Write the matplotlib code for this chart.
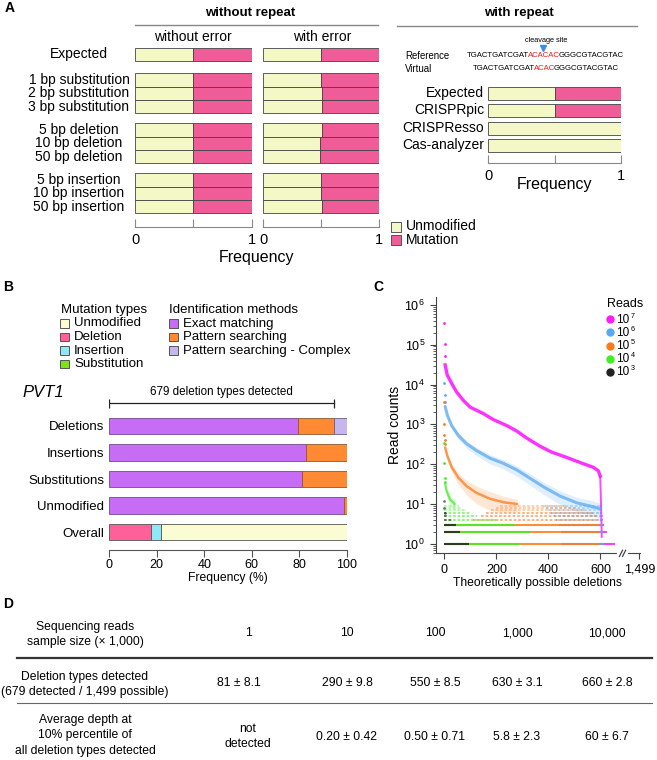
import numpy as np
import matplotlib
matplotlib.use('Agg')
import matplotlib.pyplot as plt
from matplotlib import font_manager
from matplotlib.patches import Rectangle
from matplotlib.lines import Line2D

plt.rcParams['font.family'] = ['Liberation Sans', 'DejaVu Sans']
plt.rcParams['mathtext.fontset'] = 'custom'
plt.rcParams['mathtext.rm'] = 'Liberation Sans'
plt.rcParams['mathtext.it'] = 'Liberation Sans:italic'
plt.rcParams['mathtext.bf'] = 'Liberation Sans:bold'

W, H = 657, 760

# ---------------- data ----------------
# panel A
a_rows = ['Expected', '1 bp substitution', '2 bp substitution', '3 bp substitution',
          '5 bp deletion', '10 bp deletion', '50 bp deletion',
          '5 bp insertion', '10 bp insertion', '50 bp insertion']
a_group = [0, 1, 1, 1, 2, 2, 2, 3, 3, 3]
a_unmod_no_err = [0.50, 0.50, 0.50, 0.50, 0.50, 0.50, 0.50, 0.50, 0.50, 0.50]
a_unmod_err = [0.50, 0.497, 0.503, 0.503, 0.505, 0.490, 0.490, 0.494, 0.494, 0.503]
rep_rows = ['Expected', 'CRISPRpic', 'CRISPResso', 'Cas-analyzer']
rep_unmod = [0.50, 0.50, 1.00, 1.00]
ref_parts = ['TGACTGATCGAT', 'ACACAC', 'GGGCGTACGTAC']
virt_parts = ['TGACTGATCGAT', 'ACAC', 'GGGCGTACGTAC']

# panel B
b_rows = ['Deletions', 'Insertions', 'Substitutions', 'Unmodified']
b_exact = [79.6, 82.7, 81.0, 98.8]
b_pattern = [15.2, 17.3, 19.0, 1.2]
b_complex = [5.2, 0.0, 0.0, 0.0]
overall_vals = [17.7, 3.9, 0.2, 78.2]   # deletion, insertion, substitution, unmodified
deletion_bracket = 94.8
mut_types = ['Unmodified', 'Deletion', 'Insertion', 'Substitution']
methods = ['Exact matching', 'Pattern searching', 'Pattern searching - Complex']

# panel C
c_exps = [7, 6, 5, 4, 3]
pink_top_x = [0, 1, 2]
pink_top_y = [3.6e5, 1.05e5, 5.3e4]
pink_x = [3, 11, 28, 47, 73, 99, 150, 188, 240, 278, 317, 368, 413, 470, 522, 573, 592, 599]
pink_y = [3.1e4, 1.74e4, 1.07e4, 6.5e3, 4.0e3, 2.7e3, 1.86e3, 1.32e3, 930, 680, 450, 282, 200, 148, 110, 83, 68, 50]
pink_drop_x = [599, 601, 603, 605]
pink_drop_y = [50, 20, 6, 1.5]
pink_lv = [1, 2, 3, 4, 5, 6, 7, 8, 9]
pink_lv_start = [600, 600, 600, 600, 600, 600, 600, 600, 600]
pink_lv_end = [657, 625, 614, 610, 608, 607, 606, 606, 605]

blue_top_x = [0, 1, 2]
blue_top_y = [1.1e4, 5.4e3, 3.6e3]
blue_x = [3, 12, 28, 54, 86, 124, 176, 227, 278, 330, 381, 445, 509, 573, 599]
blue_y = [2820, 1660, 933, 525, 324, 219, 141, 105, 72, 44, 27, 15.8, 10.7, 8.5, 7.6]
blue_spread = [0.03, 0.04, 0.05, 0.06, 0.07, 0.08, 0.09, 0.09, 0.10, 0.11, 0.12, 0.13, 0.14, 0.15, 0.15]
blue_lv = [1, 2, 3, 4, 5, 6, 7, 8, 9]
blue_lv_start = [450, 450, 440, 430, 420, 410, 400, 390, 380]
blue_lv_end = [612, 610, 609, 608, 607, 606, 606, 605, 605]

orange_top_x = [0, 0, 0, 1, 2]
orange_top_y = [3.6e3, 1.0e3, 5.5e2, 4.0e2, 3.2e2]
orange_x = [3, 12, 28, 54, 86, 124, 176, 230, 280]
orange_y = [263, 158, 85, 46, 28, 19, 13.5, 11, 10]
orange_spread = [0.04, 0.06, 0.08, 0.11, 0.14, 0.17, 0.18, 0.15, 0.12]
orange_lv = [1, 2, 3, 4, 5, 6, 7, 8, 9]
orange_lv_start = [0, 0, 0, 110, 140, 160, 180, 200, 215]
orange_lv_end = [597, 597, 597, 596, 590, 575, 545, 505, 470]

green_top_x = [0, 0, 1, 2]
green_top_y = [350, 110, 45, 36]
green_x = [3, 9, 22, 40]
green_y = [32, 21, 13, 10]
green_spread = [0.06, 0.08, 0.10, 0.10]
green_lv = [1, 2, 3, 4, 5, 6, 7, 8, 9]
green_lv_start = [0, 0, 0, 0, 0, 0, 0, 0, 0]
green_lv_end = [290, 330, 270, 200, 125, 100, 80, 68, 55]

black_top_x = [0, 0, 1]
black_top_y = [12, 8, 6]
black_lv = [1, 2, 3, 4, 5, 6]
black_lv_start = [0, 0, 0, 0, 0, 0]
black_lv_end = [95, 60, 45, 28, 15, 8]

c_xticks = [0, 200, 400, 600, 750]
c_xticklabels = ['0', '200', '400', '600', '1,499']

# panel D
d_header = ['1', '10', '100', '1,000', '10,000']
d_detected = ['81 ± 8.1', '290 ± 9.8', '550 ± 8.5', '630 ± 3.1', '660 ± 2.8']
d_depth = ['not\ndetected', '0.20 ± 0.42', '0.50 ± 0.71', '5.8 ± 2.3', '60 ± 6.7']

# colours
C_UNMOD = '#f3f8c6'
C_MUT = '#f05c98'
C_EXACT = '#c76cf5'
C_PATT = '#ff8a33'
C_COMPLEX = '#c5b6ee'
C_DEL = '#ff6097'
C_INS = '#90e8f6'
C_SUB = '#7de21a'
C_UNMOD_B = '#fafcd3'
c_cols = ['#ff1aff', '#5aa9f0', '#ff7a1a', '#3ff020', '#222222']

# ---------------- helpers ----------------
fig = plt.figure(figsize=(W / 100, H / 100), dpi=100)


def px_axes(x0, y0, x1, y1):
    return fig.add_axes([x0 / W, 1 - y1 / H, (x1 - x0) / W, (y1 - y0) / H])


def ftext(x, y, s, **kw):
    kw.setdefault('va', 'center')
    return fig.text(x / W, 1 - y / H, s, **kw)


def fbox(x, y, w, h, fc, ec='#555555'):
    fig.add_artist(Rectangle((x / W, 1 - (y + h) / H), w / W, h / H,
                             transform=fig.transFigure, fc=fc, ec=ec, lw=0.7))


def fline(x0, x1, y0, y1, **kw):
    fig.add_artist(Line2D([x0 / W, x1 / W], [1 - y0 / H, 1 - y1 / H],
                          transform=fig.transFigure, **kw))


# ---------------- panel A ----------------
ftext(5, 8, 'A', fontsize=10, weight='bold', ha='left')
ftext(250, 12.7, 'without repeat', fontsize=9.5, weight='bold', ha='center')
fline(135, 378, 25, 25, color='#888888', lw=1)
ftext(193, 37.3, 'without error', fontsize=10, ha='center')
ftext(322.7, 37.3, 'with error', fontsize=10, ha='center')

pitch = 13.3
group_top = [47.7, 73.3, 123.3, 173.3]
a_y = []
cnt = {}
for g in a_group:
    k = cnt.get(g, 0)
    a_y.append(group_top[g] + pitch * (k + 0.5))
    cnt[g] = k + 1

for lab, y in zip(a_rows, a_y):
    ftext(79, y, lab, fontsize=10, ha='center')

for (x0, x1, vals) in [(135, 251.7, a_unmod_no_err), (263.3, 379.3, a_unmod_err)]:
    ax = px_axes(x0, 40, x1, 227)
    vals = np.array(vals)
    ax.barh(a_y, vals, height=pitch, color=C_UNMOD, edgecolor='#444444', lw=0.6)
    ax.barh(a_y, 1 - vals, left=vals, height=pitch, color=C_MUT, edgecolor='#444444', lw=0.6)
    ax.set_xlim(0, 1)
    ax.set_ylim(227, 40)
    for s in ['left', 'right', 'top']:
        ax.spines[s].set_visible(False)
    ax.spines['bottom'].set_color('#888888')
    ax.set_yticks([])
    ax.set_xticks([0, 0.5, 1], ['0', '', '1'])
    ax.tick_params(axis='x', direction='in', length=5.5, color='#888888', labelsize=10.5, pad=4)

ftext(256.7, 257.3, 'Frequency', fontsize=11.5, ha='center')

# right part: with repeat
ftext(519.3, 12.7, 'with repeat', fontsize=9.5, weight='bold', ha='center')
fline(397, 637, 25.7, 25.7, color='#888888', lw=1)
ftext(545.7, 40, 'cleavage site', fontsize=5.3, ha='center')
fig.add_artist(Line2D([543.3 / W], [1 - 48.3 / H], marker='v', color='#3a8fe6', ms=5,
                      transform=fig.transFigure))
ftext(405, 55.7, 'Reference', fontsize=6.9, ha='left')
ftext(405, 69, 'Virtual', fontsize=6.9, ha='left')

names = {f.name for f in font_manager.fontManager.ttflist}
if 'Liberation Sans Narrow' in names:
    seq_font, seq_size = 'Liberation Sans Narrow', 6.8
else:
    seq_font, seq_size = 'Liberation Sans', 5.6
renderer = fig.canvas.get_renderer()


def seq_line(xc, y, parts):
    cols = ['black', '#ee1c1c', 'black']
    ts = [ftext(0, y, p, color=c, fontsize=seq_size, family=seq_font, ha='left')
          for p, c in zip(parts, cols)]
    ws = [t.get_window_extent(renderer).width - 1.2 for t in ts]
    x = xc - sum(ws) / 2
    for t, w in zip(ts, ws):
        t.set_x(x / W)
        x += w


seq_line(545, 55.7, ref_parts)
seq_line(545, 69, virt_parts)

rep_y = [93.3, 110.3, 128.5, 145.5]
for lab, y in zip(rep_rows, rep_y):
    ftext(484, y, lab, fontsize=10, ha='right')
ax = px_axes(488.3, 80, 621, 163.3)
rv = np.array(rep_unmod)
ax.barh(rep_y, rv, height=12.5, color=C_UNMOD, edgecolor='#444444', lw=0.6)
mask = (1 - rv) > 0
ax.barh(np.array(rep_y)[mask], (1 - rv)[mask], left=rv[mask], height=12.5, color=C_MUT,
        edgecolor='#444444', lw=0.6)
ax.set_xlim(0, 1)
ax.set_ylim(163.3, 80)
for s in ['left', 'right', 'top']:
    ax.spines[s].set_visible(False)
ax.spines['bottom'].set_color('#888888')
ax.set_yticks([])
ax.set_xticks([0, 0.5, 1], ['0', '', '1'])
ax.tick_params(axis='x', direction='in', length=5.5, color='#888888', labelsize=10.5, pad=4)
ftext(554, 185, 'Frequency', fontsize=11.5, ha='center')

fbox(390.7, 221.7, 10, 10, C_UNMOD)
fbox(390.7, 235, 10, 10, C_MUT)
ftext(406, 226.5, 'Unmodified', fontsize=10, ha='left')
ftext(406, 240, 'Mutation', fontsize=10, ha='left')

# ---------------- panel B ----------------
ftext(3, 287, 'B', fontsize=10, weight='bold', ha='left')
ftext(60.7, 310, 'Mutation types', fontsize=9.5, ha='left')
ftext(169.3, 310, 'Identification methods', fontsize=9.5, ha='left')
for i, (lab, c) in enumerate(zip(mut_types, [C_UNMOD_B, C_DEL, C_INS, C_SUB])):
    y = 323.5 + 13.6 * i
    fbox(60.3, y - 4.2, 8.2, 8.2, c)
    ftext(74, y, lab, fontsize=9.5, ha='left')
for i, (lab, c) in enumerate(zip(methods, [C_EXACT, C_PATT, C_COMPLEX])):
    y = 323.5 + 13.6 * i
    fbox(169.3, y - 4.2, 8.2, 8.2, c)
    ftext(182.7, y, lab, fontsize=9.5, ha='left')
ftext(22, 392, 'PVT1', fontsize=12, style='italic', ha='left')

ax = px_axes(109.3, 385, 346.7, 550)
b_y = [425.8 + 26.6 * i for i in range(5)]
bh = 16.5
ex = np.array(b_exact)
pa = np.array(b_pattern)
co = np.array(b_complex)
ax.barh(b_y[:4], ex, height=bh, color=C_EXACT, edgecolor='#6d4c8f', lw=0.6)
ax.barh(b_y[:4], pa, left=ex, height=bh, color=C_PATT, edgecolor='#8a5a30', lw=0.6)
ax.barh(b_y[:1], co[:1], left=(ex + pa)[:1], height=bh, color=C_COMPLEX, edgecolor='#6d5c8f', lw=0.6)
left = 0
for v, c in zip(overall_vals, [C_DEL, C_INS, C_SUB, C_UNMOD_B]):
    ax.barh(b_y[4], v, left=left, height=bh, color=c, edgecolor='#555555', lw=0.6)
    left += v
ax.plot([0, deletion_bracket], [403.3, 403.3], color='#222222', lw=0.9)
ax.vlines([0, deletion_bracket], 398.5, 408, color='#222222', lw=0.9)
ax.text(deletion_bracket / 2, 392, '679 deletion types detected', fontsize=8.4,
        ha='center', va='center')
ax.set_xlim(0, 100)
ax.set_ylim(550, 385)
for s in ['left', 'right', 'top']:
    ax.spines[s].set_visible(False)
ax.spines['bottom'].set_color('#555555')
ax.set_yticks(b_y, b_rows + ['Overall'])
ax.tick_params(axis='y', length=0, labelsize=9.5, pad=3.5)
ax.set_xticks([0, 20, 40, 60, 80, 100])
ax.tick_params(axis='x', direction='out', length=5, color='#555555', labelsize=9, pad=1.5)
ftext(228, 578, 'Frequency (%)', fontsize=8.7, ha='center')

# ---------------- panel C ----------------
ftext(373, 287, 'C', fontsize=10, weight='bold', ha='left')
ax = px_axes(435.5, 296.7, 640, 553.3)
ax.set_yscale('log')


def levels(lv, st, en, col, z):
    for l, a, b in zip(lv, st, en):
        if l <= 3:
            ax.hlines(l, a, b, color=col, lw=1.5, alpha=0.85, zorder=z)
        else:
            alpha = 0.6 if l <= 6 else 0.4
            ax.hlines(l, a, b, color=col, lw=1.3, alpha=alpha, zorder=z,
                      linestyles=(0, (1.5, 1)))


def band(x, y, spread, col, z, lw=1.4):
    x = np.array(x)
    y = np.array(y, dtype=float)
    sp = np.array(spread)
    ax.fill_between(x, y / 10 ** (1.6 * sp), y * 10 ** sp, color=col, alpha=0.18, lw=0, zorder=z)
    ax.plot(x, y, color=col, lw=lw, alpha=0.75, zorder=z, solid_capstyle='round')


# 10^7
levels(pink_lv, pink_lv_start, pink_lv_end, c_cols[0], 1)
ax.plot(pink_x, pink_y, color=c_cols[0], lw=2.4, alpha=0.9, zorder=1)
ax.plot(pink_drop_x, pink_drop_y, color=c_cols[0], lw=1.4, alpha=0.8, zorder=1)
ax.scatter(pink_top_x, pink_top_y, s=4, color=c_cols[0], lw=0, zorder=1)
# 10^6
levels(blue_lv, blue_lv_start, blue_lv_end, c_cols[1], 2)
band(blue_x, blue_y, blue_spread, c_cols[1], 2, lw=2.2)
ax.scatter(blue_top_x, blue_top_y, s=4, color=c_cols[1], lw=0, zorder=2)
# 10^5
levels(orange_lv, orange_lv_start, orange_lv_end, c_cols[2], 3)
band(orange_x, orange_y, orange_spread, c_cols[2], 3, lw=1.8)
ax.scatter(orange_top_x, orange_top_y, s=4, color=c_cols[2], lw=0, zorder=3)
# 10^4
levels(green_lv, green_lv_start, green_lv_end, c_cols[3], 4)
band(green_x, green_y, green_spread, c_cols[3], 4, lw=1.6)
ax.scatter(green_top_x, green_top_y, s=4, color=c_cols[3], lw=0, zorder=4)
# 10^3
levels(black_lv, black_lv_start, black_lv_end, c_cols[4], 5)
ax.scatter(black_top_x, black_top_y, s=4, color=c_cols[4], lw=0, alpha=0.6, zorder=5)

ax.set_xlim(-34, 752)
ax.set_ylim(0.58, 1.6e6)
for s in ['right', 'top']:
    ax.spines[s].set_visible(False)
for s in ['left', 'bottom']:
    ax.spines[s].set_color('#444444')
ax.set_xticks(c_xticks, c_xticklabels)
ax.tick_params(axis='both', which='major', labelsize=9, length=4, color='#444444')
ax.tick_params(axis='y', which='minor', length=2, color='#444444')
ax.set_yticks([10.0 ** k for k in range(7)])
# axis break
ax.plot([672, 698], [0, 0], color='white', lw=3, transform=ax.get_xaxis_transform(),
        clip_on=False, zorder=10)
for xb in [679, 691]:
    ax.plot([xb - 6, xb + 6], [-0.012, 0.012], color='#444444', lw=0.9,
            transform=ax.get_xaxis_transform(), clip_on=False, zorder=11)
ax.set_ylabel('Read counts', fontsize=10, labelpad=2)
ax.set_xlabel('Theoretically possible deletions', fontsize=8.7, labelpad=1)

ftext(606.7, 304.3, 'Reads', fontsize=9, ha='left')
for i, (e, c) in enumerate(zip(c_exps, c_cols)):
    y = 319.3 + 13.1 * i
    fig.add_artist(Line2D([610 / W], [1 - y / H], marker='o', ms=5, color=c, lw=0,
                          transform=fig.transFigure))
    ftext(616.5, y + 0.8, '10', fontsize=8.5, ha='left')
    ftext(630.4, y - 3.2, str(e), fontsize=5.2, ha='left')

# ---------------- panel D ----------------
ftext(3, 604, 'D', fontsize=10, weight='bold', ha='left')
d_cols = [248, 347, 435, 517, 607]
fs = 8.7
ftext(85, 626.7, 'Sequencing reads', fontsize=fs, ha='center')
ftext(85, 641.7, 'sample size (× 1,000)', fontsize=fs, ha='center')
ftext(85, 676.7, 'Deletion types detected', fontsize=fs, ha='center')
ftext(85, 691.7, '(679 detected / 1,499 possible)', fontsize=fs, ha='center')
ftext(85, 720, 'Average depth at', fontsize=fs, ha='center')
ftext(85, 735, '10% percentile of', fontsize=fs, ha='center')
ftext(85, 750.7, 'all deletion types detected', fontsize=fs, ha='center')
for i, x in enumerate(d_cols):
    ftext(x, 633.3, d_header[i], fontsize=fs, ha='center')
    ftext(x - 9 if i == 0 else x, 683.3, d_detected[i], fontsize=fs, ha='center')
    ftext(x, 736.5, d_depth[i], fontsize=fs, ha='center', linespacing=1.25)
fline(16.7, 651.7, 658.3, 658.3, color='#333333', lw=1.6)
fline(16.7, 651.7, 703.3, 703.3, color='#666666', lw=0.8)

fig.savefig('out.png', dpi=100)
